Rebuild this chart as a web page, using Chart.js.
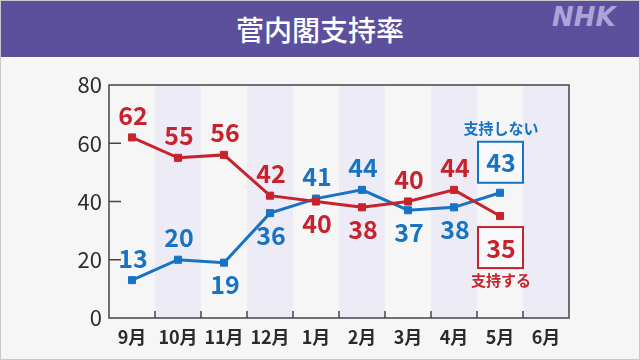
<!DOCTYPE html>
<html>
<head>
<meta charset="utf-8">
<script src="https://cdn.jsdelivr.net/npm/chart.js@4"></script>
<style>
  html, body { margin: 0; padding: 0; background: #f6f6f7; }
  #wrap { position: relative; width: 640px; height: 360px; overflow: hidden; background: #f6f6f7; }
  #head { position: absolute; left: 0; top: 0; width: 640px; height: 57px; background: #5c509d; }
  #head h1 { margin: 0; position: absolute; left: 0; right: 0; top: 11px; text-align: center;
    color: #fff; font: 500 28px "Noto Sans CJK JP", sans-serif; line-height: 36px; letter-spacing: 0px; }
  #logo { position: absolute; left: 552px; top: 2px; color: #aba4d8; font: italic bold 26px "DejaVu Sans", sans-serif; letter-spacing: 0px; }
  #box { position: absolute; left: 0; top: 57px; width: 640px; height: 303px; }
  #frame { position: absolute; left: 0; top: 0; width: 638px; height: 358px; border: 1px solid #c9c9c9; pointer-events: none; }
</style>
</head>
<body>
<div id="wrap">
  <div id="head"><h1>菅内閣支持率</h1><div id="logo">NHK</div></div>
  <div id="box"><canvas id="chart"></canvas></div>
  <div id="frame"></div>
</div>
<script>
var months = ['9月', '10月', '11月', '12月', '1月', '2月', '3月', '4月', '5月', '6月'];
var support = [62, 55, 56, 42, 40, 38, 40, 44, 35, null];
var noSupport = [13, 20, 19, 36, 41, 44, 37, 38, 43, null];
var yTicks = [0, 20, 40, 60, 80];

var RED = '#c8232d';
var BLUE = '#1773c3';
var AXIS = '#444448';

// where each value label sits: 1 = above the point, -1 = below
var supportSide = [1, 1, 1, 1, -1, -1, 1, 1];
var noSupportSide = [1, 1, -1, -1, 1, 1, -1, -1];

var stripes = {
  id: 'stripes',
  beforeDatasetsDraw: function (chart) {
    let ctx = chart.ctx, x = chart.scales.x, area = chart.chartArea;
    let w = x.getPixelForValue(1) - x.getPixelForValue(0);
    ctx.save();
    ctx.fillStyle = '#ecebf6';
    for (let i = 1; i < months.length; i += 2) {
      let cx = x.getPixelForValue(i);
      ctx.fillRect(cx - w / 2, area.top, w, area.bottom - area.top);
    }
    ctx.restore();
  }
};

var frame = {
  id: 'frame',
  afterDatasetsDraw: function (chart) {
    let ctx = chart.ctx, x = chart.scales.x, y = chart.scales.y, a = chart.chartArea;
    ctx.save();
    ctx.strokeStyle = AXIS;
    ctx.lineWidth = 1.5;
    ctx.strokeRect(a.left, a.top, a.right - a.left, a.bottom - a.top);
    ctx.beginPath();
    for (let i = 1; i < months.length; i++) {
      let bx = (x.getPixelForValue(i - 1) + x.getPixelForValue(i)) / 2;
      ctx.moveTo(bx, a.bottom);
      ctx.lineTo(bx, a.bottom - 7);
    }
    for (let i = 1; i < yTicks.length - 1; i++) {
      let py = y.getPixelForValue(yTicks[i]);
      ctx.moveTo(a.left, py);
      ctx.lineTo(a.left + 12, py);
    }
    ctx.stroke();
    ctx.restore();
  }
};

function drawLabels(chart, index, sides, color, name, nameSide) {
  let ctx = chart.ctx;
  let pts = chart.getDatasetMeta(index).data;
  let vals = chart.data.datasets[index].data;
  ctx.save();
  ctx.fillStyle = color;
  ctx.textAlign = 'center';
  ctx.textBaseline = 'middle';
  ctx.font = 'bold 25px "Noto Sans CJK JP", sans-serif';
  let last = 0;
  for (let i = 0; i < vals.length; i++) {
    if (vals[i] === null) continue;
    last = i;
  }
  for (let i = 0; i < last; i++) {
    let p = pts[i];
    ctx.fillText(String(vals[i]), p.x + 1, p.y - sides[i] * 22);
  }
  // callout box for the latest value
  let p = pts[last];
  let by = p.y - nameSide * 31;
  ctx.strokeStyle = color;
  ctx.lineWidth = 2;
  ctx.fillStyle = '#f9f9fb';
  ctx.fillRect(p.x - 22, by - 20, 45, 41);
  ctx.strokeRect(p.x - 22, by - 20, 45, 41);
  ctx.fillStyle = color;
  ctx.fillText(String(vals[last]), p.x + 1, by + 1);
  ctx.font = 'bold 15px "Noto Sans CJK JP", sans-serif';
  ctx.fillText(name, p.x + 1, p.y - nameSide * 64);
  ctx.restore();
}

var labels = {
  id: 'labels',
  afterDraw: function (chart) {
    drawLabels(chart, 0, supportSide, RED, '支持する', -1);
    drawLabels(chart, 1, noSupportSide, BLUE, '支持しない', 1);
  }
};

new Chart(document.getElementById('chart'), {
  type: 'line',
  data: {
    labels: months,
    datasets: [{
      label: '支持する',
      data: support,
      borderColor: RED,
      backgroundColor: RED,
      borderWidth: 3,
      pointStyle: 'rect',
      pointRadius: 5,
      pointBorderWidth: 1,
      tension: 0
    }, {
      label: '支持しない',
      data: noSupport,
      borderColor: BLUE,
      backgroundColor: BLUE,
      borderWidth: 3,
      pointStyle: 'rect',
      pointRadius: 5,
      pointBorderWidth: 1,
      tension: 0
    }]
  },
  options: {
    responsive: true,
    maintainAspectRatio: false,
    animation: false,
    devicePixelRatio: 1,
    layout: { padding: { top: 28, right: 71, bottom: 0, left: 0 } },
    scales: {
      x: {
        type: 'category',
        offset: true,
        grid: { display: false, drawTicks: false },
        border: { display: false },
        ticks: {
          color: '#2b2b2b',
          padding: 8,
          maxRotation: 0,
          autoSkip: false,
          font: { family: '"Noto Sans CJK JP", sans-serif', size: 18, weight: 'bold' }
        },
        afterFit: function (s) { s.height = 42; }
      },
      y: {
        min: 0,
        max: 80,
        grid: { display: false, drawTicks: false },
        border: { display: false },
        afterBuildTicks: function (s) { s.ticks = yTicks.map(function (v) { return { value: v }; }); },
        ticks: {
          color: '#2b2b2b',
          padding: 7,
          font: { family: '"Noto Sans CJK JP", sans-serif', size: 22 }
        },
        afterFit: function (s) { s.width = 109; }
      }
    },
    plugins: {
      legend: { display: false },
      tooltip: { enabled: false }
    }
  },
  plugins: [stripes, frame, labels]
});
</script>
</body>
</html>
